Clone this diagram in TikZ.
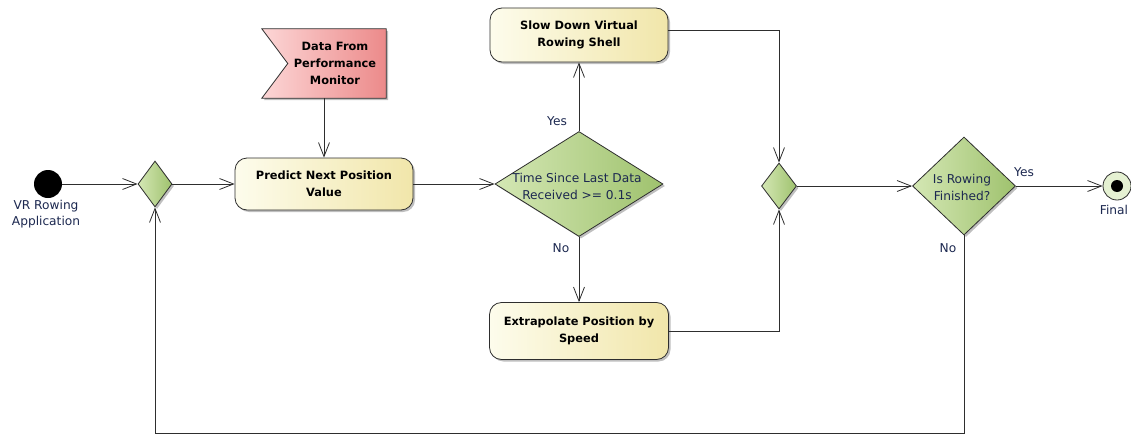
\documentclass[tikz,border=0pt]{standalone}
\usepackage{fontspec}
\setmainfont{DejaVu Sans}
\usetikzlibrary{arrows.meta,shapes.geometric,shadows,calc}
\definecolor{edge}{HTML}{2E2E2E}
\definecolor{navy}{HTML}{1C2850}
\definecolor{actL}{HTML}{FDFCEC}
\definecolor{actR}{HTML}{F1E6AA}
\definecolor{decL}{HTML}{D4E7B4}
\definecolor{decR}{HTML}{9FC26E}
\definecolor{sigL}{HTML}{FCD6D6}
\definecolor{sigR}{HTML}{EC8A8A}
\begin{document}
\begin{tikzpicture}[x=1pt,y=-1pt,
  lbl/.style={text=navy, font=\fontsize{12.2}{14}\selectfont, inner sep=0pt},
  action/.style={rectangle, rounded corners=12pt, draw=edge, line width=0.8pt,
     left color=actL, right color=actR, align=center, inner sep=0pt,
     font=\bfseries\fontsize{11.4}{17}\selectfont,
     drop shadow={shadow xshift=2pt, shadow yshift=-2pt, opacity=0.25, fill=black}},
  dec/.style={diamond, draw=edge, line width=0.8pt, left color=decL, right color=decR,
     inner sep=0pt, drop shadow={shadow xshift=2pt, shadow yshift=-2pt, opacity=0.25, fill=black}},
  flow/.style={draw=edge, line width=0.8pt, -{Straight Barb[length=14pt,width=11pt,line width=0.8pt]}},
]
\useasboundingbox[fill=white] (0,0) rectangle (1131,436);

% initial
\node[circle, fill=black, minimum size=28pt, inner sep=0pt] (init) at (48,184) {};
\node[lbl, align=center, font=\fontsize{12.2}{16}\selectfont] (initl) at (46,214) {VR Rowing\\Application};

% merge 1
\node[dec, minimum width=34pt, minimum height=46pt] (m1) at (155,184) {};

% signal
\node[minimum width=124pt, minimum height=69pt, inner sep=0pt] (sig) at (324,63.5) {};
\path[draw=edge, line width=0.8pt, left color=sigL, right color=sigR,
  drop shadow={shadow xshift=2pt, shadow yshift=-2pt, opacity=0.25, fill=black}]
  (sig.north west) -- (sig.north east) -- (sig.south east) -- (sig.south west)
  -- ($(sig.west)+(26,0)$) -- cycle;
\node[align=center, font=\bfseries\fontsize{11.4}{17}\selectfont, inner sep=0pt] (sigt) at (335,63.5) {Data From\\Performance\\Monitor};

% actions
\node[action, minimum width=178pt, minimum height=52pt] (pred) at (324,184) {Predict Next Position\\Value};
\node[action, minimum width=178pt, minimum height=54pt] (slow) at (579,35) {Slow Down Virtual\\Rowing Shell};
\node[action, minimum width=179pt, minimum height=57pt] (ext) at (579,331) {Extrapolate Position by\\Speed};

% decision 2
\node[dec, minimum width=168pt, minimum height=105pt] (d2) at (579,184) {};
\node[lbl, align=center, font=\fontsize{12.2}{17}\selectfont] (d2t) at (577,186) {Time Since Last Data\\Received >= 0.1s};

% merge 2
\node[dec, minimum width=35pt, minimum height=46pt] (m2) at (779,186) {};

% decision 3
\node[dec, minimum width=103pt, minimum height=98pt] (d3) at (964,186) {};
\node[lbl, align=center, font=\fontsize{12.2}{17}\selectfont] (d3t) at (962,187) {Is Rowing\\Finished?};

% final
\node[circle, draw=edge, line width=0.8pt, fill=decL!60, minimum size=28pt, inner sep=0pt] (final) at (1117,186) {};
\node[circle, fill=black, minimum size=12pt, inner sep=0pt] (finaldot) at (final) {};
\node[lbl] (finall) at (1114,210) {Final};

% labels
\node[lbl] (yes1) at (557,121) {Yes};
\node[lbl] (no1) at (561,248) {No};
\node[lbl] (yes2) at (1024,172) {Yes};
\node[lbl] (no2) at (948,248) {No};

% connectors
\draw[flow] (init) -- (m1);
\draw[flow] (m1) -- (pred);
\draw[flow] (sig.south) -- (pred.north);
\draw[flow] (pred) -- (d2);
\draw[flow] (d2) -- (slow);
\draw[flow] (d2) -- (ext);
\draw[flow] ([yshift=5pt]slow.east) -| (m2.north);
\draw[flow] (ext.east) -| (m2.south);
\draw[flow] (m2) -- (d3);
\draw[flow] (d3) -- (final);
\coordinate (c1) at (964,433);
\coordinate (c2) at (155,433);
\draw[flow] (d3.south) -- (c1) -- (c2) -- (m1.south);
\end{tikzpicture}
\end{document}
